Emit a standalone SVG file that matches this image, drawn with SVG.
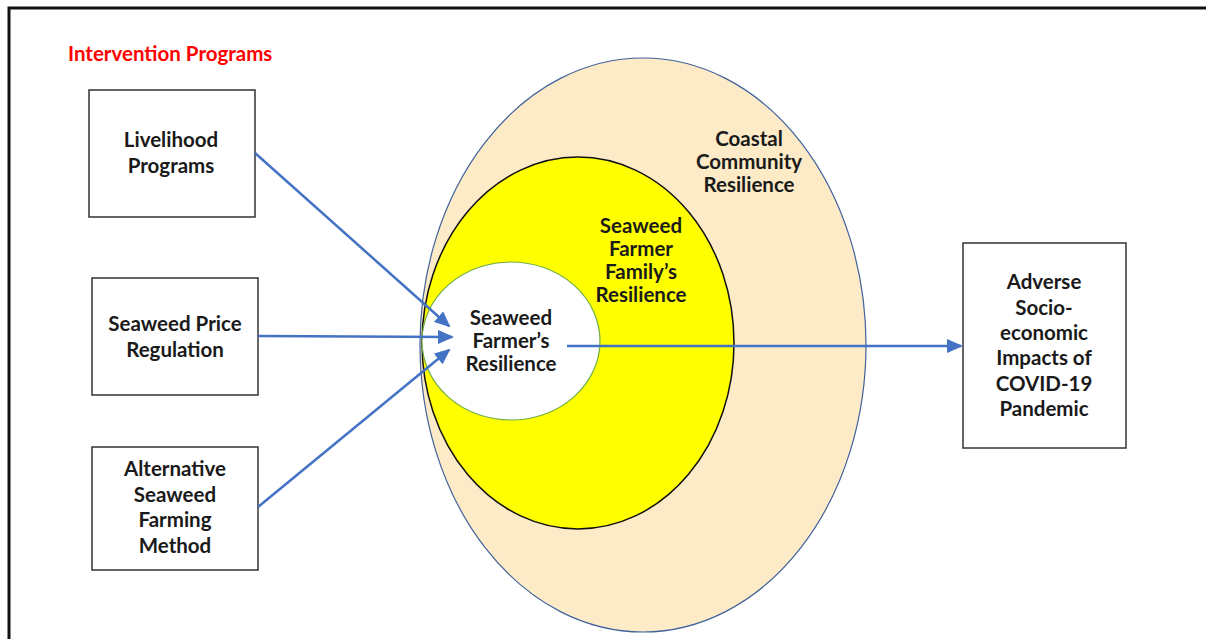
<svg xmlns="http://www.w3.org/2000/svg" width="1206" height="639" viewBox="0 0 1206 639">
<style>
.t{font-family:Lato,"Open Sans","Liberation Sans",sans-serif;font-weight:bold;font-size:20.5px;fill:#1a1a1a;text-anchor:middle}
.box{fill:#fff;stroke:#333;stroke-width:1.5}
.conn{stroke:#4472C4;stroke-width:2.5;fill:none}
</style>
<defs>
<marker id="ah2" markerWidth="16" markerHeight="14" refX="14" refY="7" orient="auto" markerUnits="userSpaceOnUse" viewBox="0 0 16 14">
<path d="M0,0 L16,7 L0,14 z" fill="#4472C4"/>
</marker>
</defs>
<rect x="0" y="0" width="1206" height="639" fill="#fff"/>
<path d="M9,639 V8 H1206" fill="none" stroke="#111" stroke-width="3"/>
<text x="68" y="61" style="font-family:Lato,'Open Sans','Liberation Sans',sans-serif;font-weight:bold;font-size:20.5px;fill:#ff0000">Intervention Programs</text>
<g id="coastal">
<ellipse cx="643" cy="345" rx="223" ry="287" fill="#FDEBC8" stroke="#41619B" stroke-width="1.2"/>
<text class="t" x="749" y="146">Coastal</text>
<text class="t" x="749" y="169">Community</text>
<text class="t" x="749" y="192">Resilience</text>
</g>
<g id="family">
<ellipse cx="578" cy="343" rx="156" ry="186" fill="#FFFF00" stroke="#111" stroke-width="1.5"/>
<text class="t" x="641" y="233">Seaweed</text>
<text class="t" x="641" y="256">Farmer</text>
<text class="t" x="641" y="279">Family’s</text>
<text class="t" x="641" y="302">Resilience</text>
</g>
<g id="farmer">
<ellipse cx="511" cy="341" rx="89" ry="79" fill="#fff" stroke="#70AD47" stroke-width="1.2"/>
<text class="t" x="511" y="325">Seaweed</text>
<text class="t" x="511" y="348">Farmer’s</text>
<text class="t" x="511" y="371">Resilience</text>
</g>
<g id="livelihood">
<rect class="box" x="89" y="90" width="166" height="127"/>
<text class="t" x="171" y="147">Livelihood</text>
<text class="t" x="171" y="173">Programs</text>
</g>
<g id="price">
<rect class="box" x="92" y="278" width="166" height="117"/>
<text class="t" x="175" y="331">Seaweed Price</text>
<text class="t" x="175" y="357">Regulation</text>
</g>
<g id="alternative">
<rect class="box" x="92" y="447" width="166" height="123"/>
<text class="t" x="175" y="476">Alternative</text>
<text class="t" x="175" y="502">Seaweed</text>
<text class="t" x="175" y="527">Farming</text>
<text class="t" x="175" y="553">Method</text>
</g>
<g id="adverse">
<rect class="box" x="963" y="243" width="163" height="205"/>
<text class="t" x="1044" y="289">Adverse</text>
<text class="t" x="1044" y="315">Socio-</text>
<text class="t" x="1044" y="340">economic</text>
<text class="t" x="1044" y="365">Impacts of</text>
<text class="t" x="1044" y="391">COVID-19</text>
<text class="t" x="1044" y="416">Pandemic</text>
</g>
<g id="connectors">
<line class="conn" x1="255" y1="153" x2="449" y2="326" marker-end="url(#ah2)"/>
<line class="conn" x1="258" y1="336" x2="452" y2="337" marker-end="url(#ah2)"/>
<line class="conn" x1="258" y1="507" x2="449" y2="350" marker-end="url(#ah2)"/>
<line class="conn" x1="567" y1="346" x2="961" y2="346" marker-end="url(#ah2)"/>
</g>
</svg>
